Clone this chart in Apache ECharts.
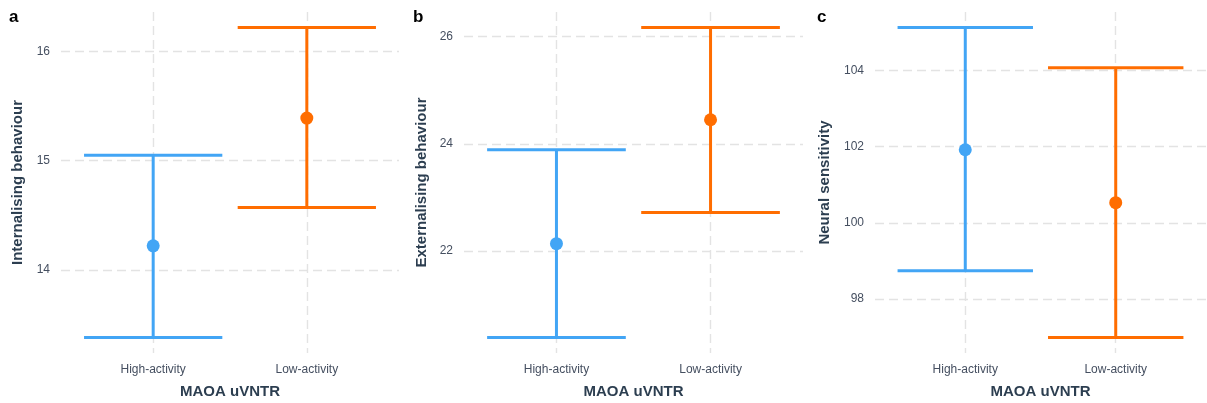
<!DOCTYPE html>
<html>
<head>
<meta charset="utf-8">
<style>
  html, body { margin: 0; padding: 0; background: #fff; }
  #chart { width: 1207px; height: 403px; }
</style>
<script src="https://cdn.jsdelivr.net/npm/echarts@6/dist/echarts.min.js"></script>
</head>
<body>
<div id="chart"></div>
<script>
// MAOA uVNTR genotype groups
const categories = ['High-activity', 'Low-activity'];

// a: internalising behaviour (mean with interval bounds)
const internalMean = [14.22, 15.39];
const internalLower = [13.38, 14.57];
const internalUpper = [15.05, 16.22];

// b: externalising behaviour
const externalMean = [22.14, 24.45];
const externalLower = [20.39, 22.72];
const externalUpper = [23.89, 26.17];

// c: neural sensitivity
const neuralMean = [101.92, 100.53];
const neuralLower = [98.74, 96.99];
const neuralUpper = [105.13, 104.07];

// y-axis tick labels per panel
const internalTicks = [14, 15, 16];
const externalTicks = [22, 24, 26];
const neuralTicks = [98, 100, 102, 104];

const groupColors = ['#42A5F5', '#FF6D00'];
const tickColor = '#454f60';
const titleColor = '#2c3e50';
const font = 'Liberation Sans, Helvetica, Arial, sans-serif';

const panels = [
  { letter: 'a', title: 'Internalising behaviour', mean: internalMean, lower: internalLower, upper: internalUpper, ticks: internalTicks, left: 61, width: 338, nameGap: 36 },
  { letter: 'b', title: 'Externalising behaviour', mean: externalMean, lower: externalLower, upper: externalUpper, ticks: externalTicks, left: 464, width: 339, nameGap: 35 },
  { letter: 'c', title: 'Neural sensitivity', mean: neuralMean, lower: neuralLower, upper: neuralUpper, ticks: neuralTicks, left: 875, width: 331, nameGap: 43 }
];

const gridTop = 12;
const gridHeight = 341;
const capWidth = 0.9;

const grid = [], xAxis = [], yAxis = [], series = [], graphic = [];

const dashed = { color: '#e3e3e3', width: 1.4, type: [9, 5] };

panels.forEach((p, i) => {
  grid.push({
    left: p.left, top: gridTop, width: p.width, height: gridHeight,
    containLabel: false, outerBoundsMode: 'none'
  });

  // 5% padding around the data range
  const lo = Math.min(...p.lower), hi = Math.max(...p.upper);
  const pad = (hi - lo) * 0.05;

  xAxis.push({
    type: 'value', gridIndex: i, min: 0.4, max: 2.6,
    name: 'MAOA uVNTR', nameLocation: 'middle', nameGap: 31,
    nameTextStyle: { fontFamily: font, fontSize: 15, fontWeight: 'bold', color: titleColor },
    axisLine: { show: false },
    axisTick: { show: false, customValues: [1, 2] },
    axisLabel: {
      customValues: [1, 2], margin: 11,
      fontFamily: font, fontSize: 12, color: tickColor,
      formatter: v => categories[Math.round(v) - 1] || ''
    },
    splitLine: { show: true, lineStyle: dashed }
  });

  yAxis.push({
    type: 'value', gridIndex: i, min: lo - pad, max: hi + pad,
    name: p.title, nameLocation: 'middle', nameGap: p.nameGap, nameRotate: 90,
    nameTextStyle: { fontFamily: font, fontSize: 15, fontWeight: 'bold', color: titleColor },
    axisLine: { show: false },
    axisTick: { show: false, customValues: p.ticks },
    axisLabel: { customValues: p.ticks, margin: 11, fontFamily: font, fontSize: 12, color: tickColor },
    splitLine: { show: true, lineStyle: dashed }
  });

  // error bars: vertical whisker plus horizontal caps
  const barData = categories.map((c, k) => [k + 1, p.lower[k], p.upper[k], k]);
  series.push({
    type: 'custom', xAxisIndex: i, yAxisIndex: i,
    data: barData,
    renderItem: (params, api) => {
      const x = api.value(0), l = api.value(1), u = api.value(2);
      const color = groupColors[api.value(3)];
      const pLow = api.coord([x, l]);
      const pUp = api.coord([x, u]);
      const capL = api.coord([x - capWidth / 2, u]);
      const capR = api.coord([x + capWidth / 2, u]);
      const capL2 = api.coord([x - capWidth / 2, l]);
      const capR2 = api.coord([x + capWidth / 2, l]);
      const style = { stroke: color, lineWidth: 3, lineCap: 'butt' };
      return {
        type: 'group',
        children: [
          { type: 'line', shape: { x1: pLow[0], y1: pLow[1], x2: pUp[0], y2: pUp[1] }, style },
          { type: 'line', shape: { x1: capL[0], y1: capL[1], x2: capR[0], y2: capR[1] }, style },
          { type: 'line', shape: { x1: capL2[0], y1: capL2[1], x2: capR2[0], y2: capR2[1] }, style }
        ]
      };
    },
    z: 3
  });

  // group means
  series.push({
    type: 'scatter', xAxisIndex: i, yAxisIndex: i,
    symbol: 'circle', symbolSize: 13,
    itemStyle: { opacity: 1 },
    data: categories.map((c, k) => ({ value: [k + 1, p.mean[k]], itemStyle: { color: groupColors[k], opacity: 1 } })),
    z: 4
  });

  graphic.push({
    type: 'text', left: [9, 413, 817][i], top: 9,
    style: { text: p.letter, fontFamily: font, fontSize: 17, fontWeight: 'bold', fill: '#000' }
  });
});

const chart = echarts.init(document.getElementById('chart'), null, { renderer: 'canvas' });
chart.setOption({
  animation: false,
  backgroundColor: '#fff',
  grid, xAxis, yAxis, series, graphic
});
</script>
</body>
</html>
